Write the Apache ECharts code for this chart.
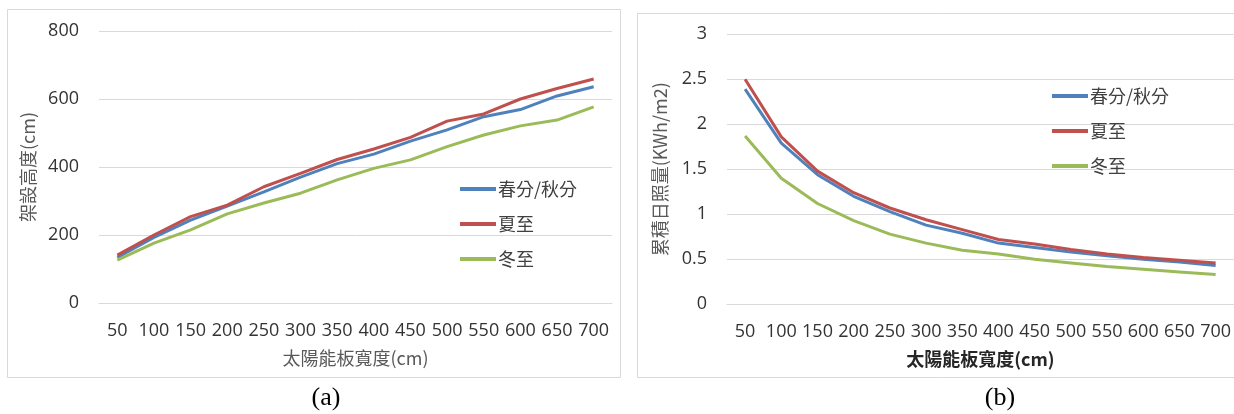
<!DOCTYPE html>
<html>
<head>
<meta charset="utf-8">
<script src="https://cdn.jsdelivr.net/npm/echarts@6/dist/echarts.min.js"></script>
<style>html,body{margin:0;padding:0;background:#fff}#c{width:1234px;height:414px}</style>
</head>
<body>
<div id="c"></div>
<script>
var categories = ['50','100','150','200','250','300','350','400','450','500','550','600','650','700'];
var seriesNames = ['春分/秋分','夏至','冬至'];
// (a) 架設高度 (cm)
var heightEquinox = [134,193,244,285,327,370,410,438,476,509,548,569,609,636];
var heightSummer  = [141,200,254,288,342,381,422,453,487,535,556,600,631,659];
var heightWinter  = [126,176,215,262,294,323,362,396,421,460,494,521,538,577];
// (b) 累積日照量 (KWh/m2)
var sunEquinox = [2.39,1.79,1.44,1.20,1.03,0.88,0.79,0.68,0.63,0.58,0.54,0.50,0.47,0.43];
var sunSummer  = [2.50,1.86,1.48,1.24,1.07,0.94,0.83,0.72,0.67,0.61,0.56,0.52,0.49,0.46];
var sunWinter  = [1.87,1.40,1.12,0.93,0.78,0.68,0.60,0.56,0.50,0.46,0.42,0.39,0.36,0.33];

var colors = ['#4f81bd','#c0504d','#9bbb59'];
var numFont = '"Open Sans", "Noto Sans CJK TC", sans-serif';
var cjkFont = '"Noto Sans CJK TC", sans-serif';
var gridColor = '#d9d9d9';
var textColor = '#333333';

function xAxisCfg(gridIndex, bold) {
  return {
    type: 'category', gridIndex: gridIndex, data: categories, boundaryGap: true,
    axisLine: {show: true, lineStyle: {color: gridColor}},
    axisTick: {show: false},
    axisLabel: {interval: 0, margin: 19, color: textColor, fontSize: 18, fontFamily: numFont},
    name: '太陽能板寬度(cm)', nameLocation: 'middle', nameGap: 46,
    nameTextStyle: {color: bold ? '#262626' : '#595959', fontSize: 18, fontFamily: cjkFont, fontWeight: bold ? 'bold' : 'normal'}
  };
}
function yAxisCfg(gridIndex, min, max, interval, name, gap) {
  return {
    type: 'value', gridIndex: gridIndex, min: min, max: max, interval: interval,
    axisLine: {show: false}, axisTick: {show: false},
    splitLine: {lineStyle: {color: gridColor, width: 1}},
    axisLabel: {margin: 20, color: textColor, fontSize: 18, fontFamily: numFont},
    name: name, nameLocation: 'middle', nameGap: gap, nameRotate: 90,
    nameTextStyle: {color: '#595959', fontSize: 18, fontFamily: cjkFont}
  };
}
function line(name, data, idx, axisIdx) {
  return {
    name: name, type: 'line', data: data, xAxisIndex: axisIdx, yAxisIndex: axisIdx,
    symbol: 'none', smooth: false, lineStyle: {width: 3, color: colors[idx]},
    itemStyle: {color: colors[idx]}, emphasis: {disabled: true}
  };
}
function legendCfg(left, top) {
  return {
    data: seriesNames, orient: 'vertical', left: left, top: top,
    itemWidth: 36, itemHeight: 4, itemGap: 17, icon: 'rect',
    textStyle: {color: '#404040', fontSize: 18, fontFamily: cjkFont, padding: [0,0,0,-3]}
  };
}

var chart = echarts.init(document.getElementById('c'), null, {renderer: 'canvas'});
chart.setOption({
  animation: false,
  backgroundColor: '#ffffff',
  grid: [
    {left: 99, top: 31, width: 513, height: 272},
    {left: 727, top: 34.3, width: 509, height: 270}
  ],
  xAxis: [xAxisCfg(0, false), xAxisCfg(1, true)],
  yAxis: [yAxisCfg(0, 0, 800, 200, '架設高度(cm)', 62), yAxisCfg(1, 0, 3, 0.5, '累積日照量(KWh/m2)', 58)],
  legend: [legendCfg(455, 175), legendCfg(1047, 82)],
  series: [
    line(seriesNames[0], heightEquinox, 0, 0),
    line(seriesNames[1], heightSummer, 1, 0),
    line(seriesNames[2], heightWinter, 2, 0),
    line(seriesNames[0], sunEquinox, 0, 1),
    line(seriesNames[1], sunSummer, 1, 1),
    line(seriesNames[2], sunWinter, 2, 1)
  ],
  graphic: [
    {type: 'rect', shape: {x: 7.5, y: 9.5, width: 613, height: 368}, style: {fill: 'none', stroke: gridColor, lineWidth: 1}, silent: true, z: -1},
    {type: 'rect', shape: {x: 637.5, y: 13.5, width: 620, height: 364}, style: {fill: 'none', stroke: gridColor, lineWidth: 1}, silent: true, z: -1},
    {type: 'text', style: {text: '(a)', x: 326, y: 398, align: 'center', verticalAlign: 'middle', fontSize: 26, fontFamily: '"Liberation Serif", "Times New Roman", serif', fill: '#000'}, silent: true},
    {type: 'text', style: {text: '(b)', x: 1000, y: 398, align: 'center', verticalAlign: 'middle', fontSize: 26, fontFamily: '"Liberation Serif", "Times New Roman", serif', fill: '#000'}, silent: true}
  ]
});
</script>
</body>
</html>
